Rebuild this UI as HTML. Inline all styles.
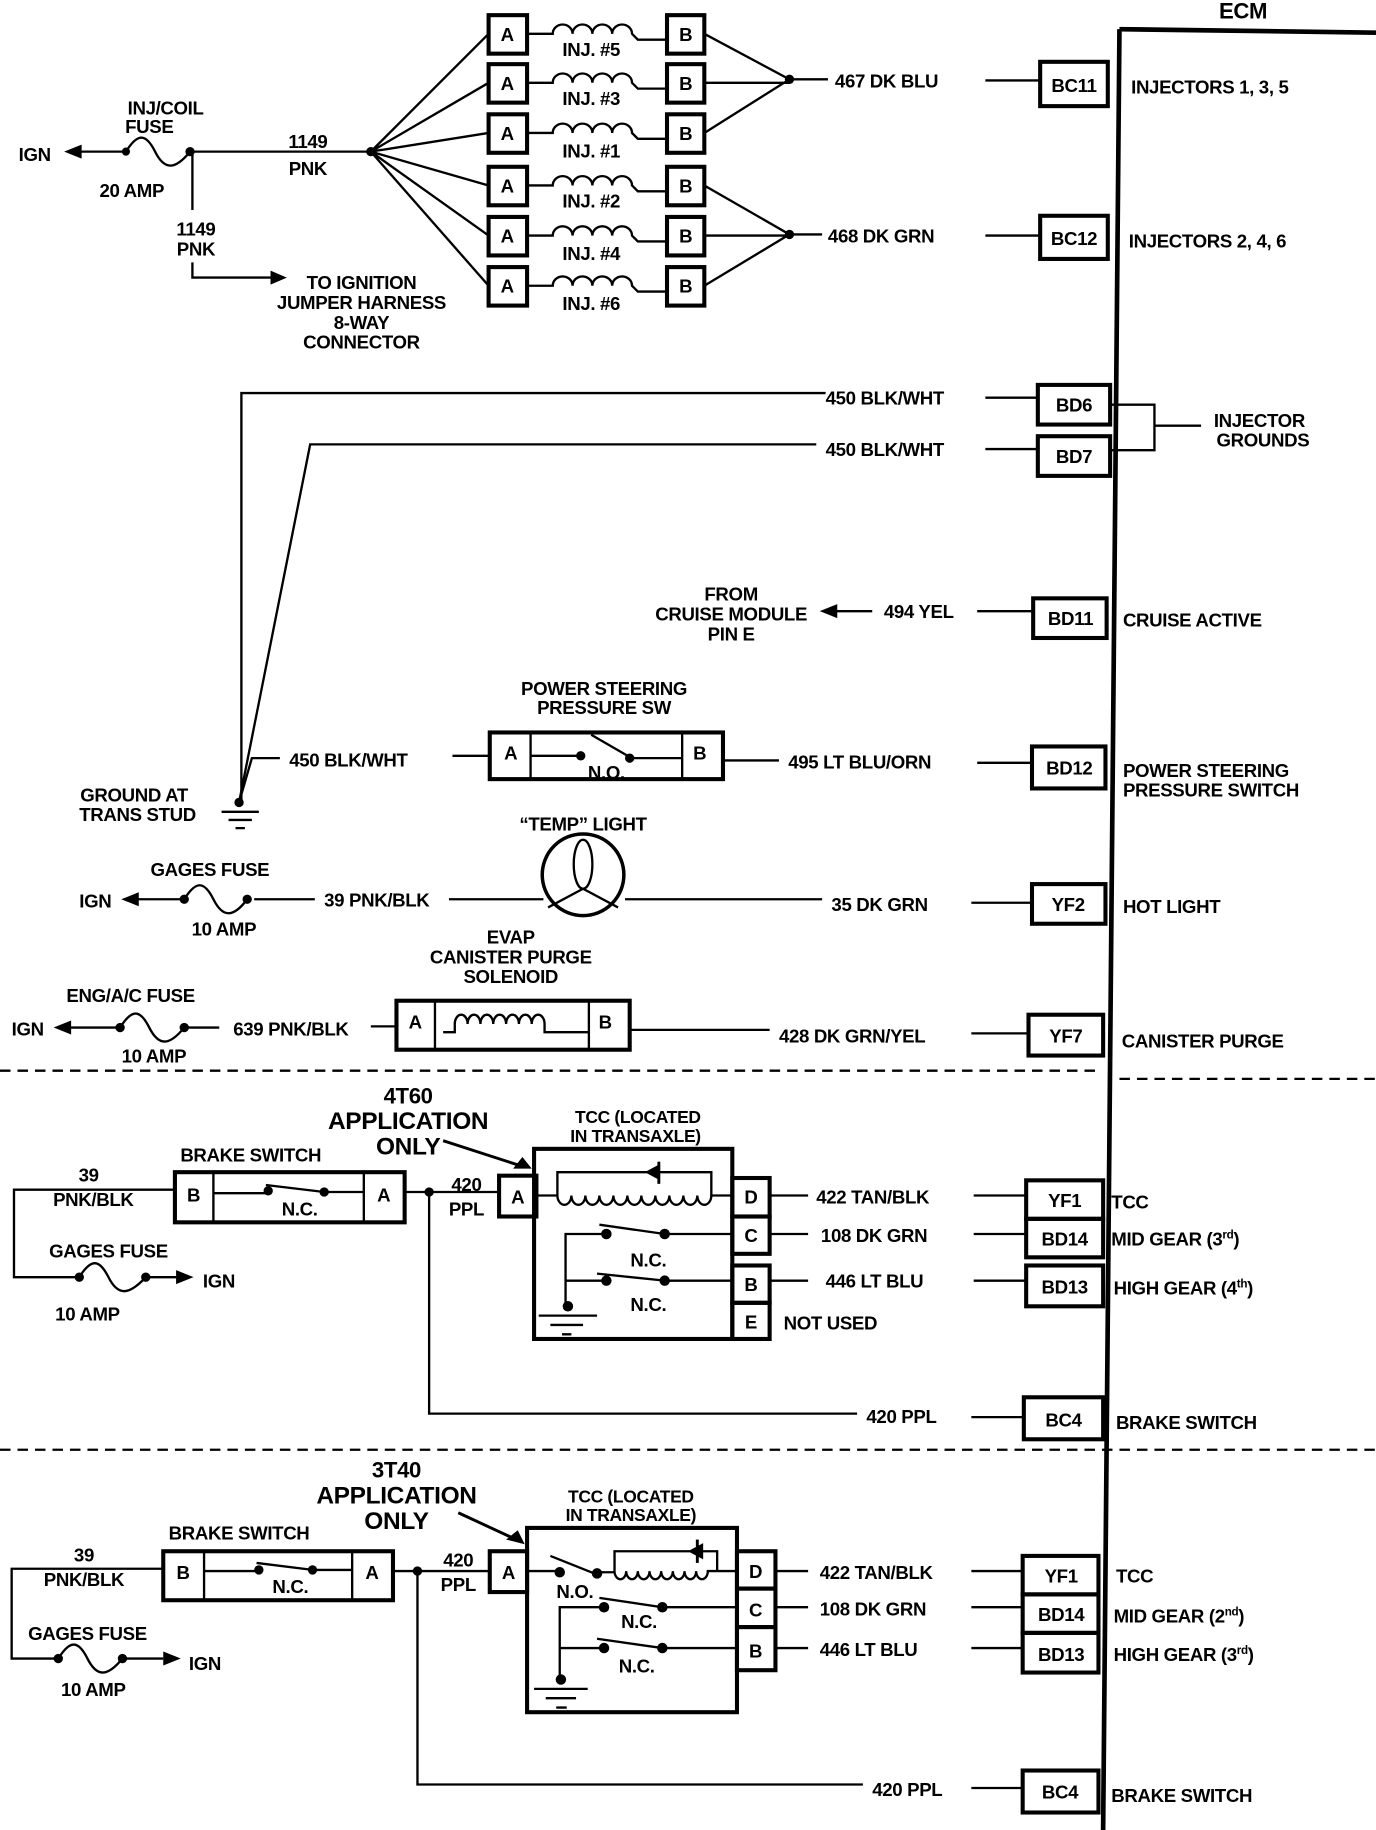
<!DOCTYPE html>
<html><head><meta charset="utf-8"><style>
html,body{margin:0;padding:0;background:#fff;}
svg{display:block;}
text{font-family:"Liberation Sans",sans-serif;font-weight:bold;font-size:16px;fill:#000;letter-spacing:-0.3px;}
.c{text-anchor:middle;}
.big{font-size:21px;}
.sm{font-size:15px;}
</style></head><body>
<svg width="1376" height="1830" viewBox="0 0 1180 1569" preserveAspectRatio="none" xmlns="http://www.w3.org/2000/svg">
<g stroke="#000" fill="none" stroke-width="2">
<!-- ECM -->
<line x1="960" y1="25" x2="946" y2="1569" stroke-width="4"/>
<line x1="960" y1="25" x2="1180" y2="28" stroke-width="4"/>

<!-- injector boxes -->
<g stroke-width="3.5">
<rect x="419" y="13" width="33" height="33"/><rect x="572" y="13" width="32" height="33"/>
<rect x="419" y="55" width="33" height="33"/><rect x="572" y="55" width="32" height="33"/>
<rect x="419" y="98" width="33" height="33"/><rect x="572" y="98" width="32" height="33"/>
<rect x="419" y="143" width="33" height="33"/><rect x="572" y="143" width="32" height="33"/>
<rect x="419" y="186" width="33" height="33"/><rect x="572" y="186" width="32" height="33"/>
<rect x="419" y="229" width="33" height="33"/><rect x="572" y="229" width="32" height="33"/>
</g>
<path d="M452 29 H474 a8.5 8 0 0 1 17 0 a8.5 8 0 0 1 17 0 a8.5 8 0 0 1 17 0 a8.5 8 0 0 1 17 0 l5 5 H572"/>
<path d="M452 71 H474 a8.5 8 0 0 1 17 0 a8.5 8 0 0 1 17 0 a8.5 8 0 0 1 17 0 a8.5 8 0 0 1 17 0 l5 5 H572"/>
<path d="M452 114 H474 a8.5 8 0 0 1 17 0 a8.5 8 0 0 1 17 0 a8.5 8 0 0 1 17 0 a8.5 8 0 0 1 17 0 l5 5 H572"/>
<path d="M452 159 H474 a8.5 8 0 0 1 17 0 a8.5 8 0 0 1 17 0 a8.5 8 0 0 1 17 0 a8.5 8 0 0 1 17 0 l5 5 H572"/>
<path d="M452 202 H474 a8.5 8 0 0 1 17 0 a8.5 8 0 0 1 17 0 a8.5 8 0 0 1 17 0 a8.5 8 0 0 1 17 0 l5 5 H572"/>
<path d="M452 245 H474 a8.5 8 0 0 1 17 0 a8.5 8 0 0 1 17 0 a8.5 8 0 0 1 17 0 a8.5 8 0 0 1 17 0 l5 5 H572"/>
<path d="M318 130 L419 29 M318 130 L419 71 M318 130 L419 114 M318 130 L419 159 M318 130 L419 202 M318 130 L419 245"/>
<path d="M604 29 L677 68 L604 114 M604 71 H677 M677 68 H710"/>
<path d="M604 159 L677 201 L604 245 M604 202 H677 M677 201 H705"/>
<path d="M845 69 H892 M845 202 H892"/>
<g stroke-width="3.5"><rect x="892" y="53" width="58" height="38"/><rect x="892" y="185" width="58" height="37"/></g>
<path d="M60 130 H108"/>
<path d="M108 130 C118 114,125 114,133 130 C141 146,150 146,163 130 H318"/>
<path d="M165 130 V180 M165 225 V238 H232"/>

<path d="M708 337 H207 V688"/>
<path d="M700 381 H266 L205 688"/>
<path d="M205 688 L216 650 H240"/>
<path d="M845 341 H890 M845 385 H890"/>
<g stroke-width="3.5"><rect x="890" y="330" width="62" height="34"/><rect x="890" y="374" width="62" height="34"/></g>
<path d="M952 347 H990 V386 H952 M990 365 H1030"/>
<path d="M190 696 H222 M196 703 H216 M202 710 H210"/>

<path d="M748 524 H712 M838 524 H886"/>
<rect x="886" y="513" width="63" height="34" stroke-width="3.5"/>

<path d="M388 648 H420"/>
<rect x="420" y="628" width="200" height="40" stroke-width="3.5"/>
<path d="M455 628 V668 M585 628 V668"/>
<path d="M455 648 H498 M507 630 L540 649 M540 650 H585"/>
<path d="M620 652 H668 M838 654 H885"/>
<rect x="885" y="640" width="63" height="36" stroke-width="3.5"/>

<path d="M218 771 H270 M385 771 H466 M536 771 H705 M833 774 H885"/>
<path d="M110 771 H158"/>
<path d="M158 771 C168 755,175 755,183 771 C191 787,200 787,212 771"/>
<circle cx="500" cy="750" r="35" stroke-width="3"/>
<ellipse cx="500" cy="741" rx="8" ry="21"/>
<path d="M500 762 L470 778 M500 762 L530 778"/>
<rect x="885" y="758" width="63" height="34" stroke-width="3.5"/>

<path d="M52 881 H103"/>
<path d="M103 881 C113 865,120 865,128 881 C136 897,145 897,158 881 H188"/>
<path d="M318 880 H340"/>
<rect x="340" y="858" width="200" height="42" stroke-width="3.5"/>
<path d="M373 858 V900 M505 858 V900"/>
<path d="M380 885 H390 V878 a5.5 8 0 0 1 11 0 a5.5 8 0 0 1 11 0 a5.5 8 0 0 1 11 0 a5.5 8 0 0 1 11 0 a5.5 8 0 0 1 11 0 a5.5 8 0 0 1 11 0 a5.5 8 0 0 1 11 0 V885 H505"/>
<path d="M540 883 H660 M833 886 H882"/>
<rect x="882" y="870" width="64" height="35" stroke-width="3.5"/>

<path d="M0 918 H940 M960 925 H1180 M0 1243 H1180" stroke-dasharray="9 6"/>

<path d="M380 978 L448 1000" stroke-width="2.5"/>
<rect x="150" y="1005" width="197" height="43" stroke-width="3.5"/>
<path d="M183 1005 V1048 M312 1005 V1048"/>
<path d="M183 1023 H230 M228 1016 L278 1022 M278 1022 H312"/>
<path d="M150 1020 H12 V1095 H68"/>
<path d="M68 1095 C78 1079,85 1079,93 1095 C101 1111,110 1111,125 1095 H158"/>
<path d="M347 1022 H428 M368 1022 V1212 H735 M833 1215 H878"/>
<rect x="878" y="1198" width="68" height="36" stroke-width="3.5"/>
<rect x="458" y="985" width="170" height="163" stroke-width="3.5"/>
<rect x="428" y="1008" width="32" height="35" stroke-width="3.5"/>
<path d="M460 1025 H478 M478 1025 V1005 H610 V1025"/>
<path d="M478 1025 a6 8 0 0 0 12 0 a6 8 0 0 0 12 0 a6 8 0 0 0 12 0 a6 8 0 0 0 12 0 a6 8 0 0 0 12 0 a6 8 0 0 0 12 0 a6 8 0 0 0 12 0 a6 8 0 0 0 12 0 a6 8 0 0 0 12 0 a6 8 0 0 0 12 0 a6 8 0 0 0 12 0 H628"/>
<path d="M565 996 V1015" stroke-width="2.5"/>
<g stroke-width="3.5"><rect x="628" y="1010" width="32" height="33"/><rect x="628" y="1043" width="32" height="32"/><rect x="628" y="1085" width="32" height="32"/><rect x="628" y="1117" width="32" height="31"/></g>
<path d="M660 1025 H693 M660 1058 H693 M660 1098 H693"/>
<path d="M835 1025 H880 M835 1058 H880 M835 1098 H880"/>
<g stroke-width="3.5"><rect x="880" y="1012" width="66" height="33"/><rect x="880" y="1045" width="66" height="33"/><rect x="880" y="1085" width="66" height="35"/></g>
<path d="M485 1120 V1058 H518 M514 1050 L570 1058 M570 1058 H628"/>
<path d="M485 1098 H518 M512 1092 L570 1098 M570 1098 H628"/>
<path d="M462 1128 H512 M472 1136 H500 M482 1144 H490"/>

<path d="M393 1297 L447 1322" stroke-width="2.5"/>
<rect x="140" y="1330" width="197" height="42" stroke-width="3.5"/>
<path d="M175 1330 V1372 M302 1330 V1372"/>
<path d="M175 1347 H222 M220 1340 L268 1346 M268 1346 H302"/>
<path d="M140 1345 H10 V1422 H50"/>
<path d="M50 1422 C60 1406,67 1406,75 1422 C83 1438,92 1438,105 1422 H140"/>
<path d="M337 1347 H420 M358 1347 V1530 H740 M833 1533 H877"/>
<rect x="877" y="1518" width="65" height="36" stroke-width="3.5"/>
<rect x="452" y="1310" width="180" height="158" stroke-width="3.5"/>
<rect x="420" y="1330" width="32" height="35" stroke-width="3.5"/>
<path d="M452 1347 H480 M472 1334 L512 1350 M512 1348 H527 M527 1347 V1330 H615 V1347"/>
<path d="M527 1347 a5 7 0 0 0 10 0 a5 7 0 0 0 10 0 a5 7 0 0 0 10 0 a5 7 0 0 0 10 0 a5 7 0 0 0 10 0 a5 7 0 0 0 10 0 a5 7 0 0 0 10 0 a5 7 0 0 0 10 0 H632"/>
<path d="M598 1320 V1340" stroke-width="2.5"/>
<g stroke-width="3.5"><rect x="632" y="1330" width="33" height="32"/><rect x="632" y="1362" width="33" height="33"/><rect x="632" y="1395" width="33" height="37"/></g>
<path d="M665 1347 H693 M665 1378 H693 M665 1413 H693"/>
<path d="M833 1347 H877 M833 1378 H877 M833 1413 H877"/>
<g stroke-width="3.5"><rect x="877" y="1334" width="65" height="33"/><rect x="877" y="1367" width="65" height="33"/><rect x="877" y="1400" width="65" height="34"/></g>
<path d="M480 1440 V1378 H518 M514 1370 L568 1378 M568 1378 H632"/>
<path d="M480 1413 H518 M512 1405 L568 1413 M568 1413 H632"/>
<path d="M458 1448 H504 M468 1456 H494 M477 1464 H486"/>
</g>

<g fill="#000">
<circle cx="318" cy="130" r="4"/><circle cx="677" cy="68" r="4"/><circle cx="677" cy="201" r="4"/>
<circle cx="108" cy="130" r="3.5"/><circle cx="163" cy="130" r="4"/>
<polygon points="55,130 70,124 70,136"/><polygon points="246,238 232,232 232,244"/>
<circle cx="205" cy="688" r="4"/>
<polygon points="703,524 718,518 718,530"/>
<circle cx="498" cy="648" r="4"/><circle cx="540" cy="650" r="4"/>
<circle cx="158" cy="771" r="4"/><circle cx="212" cy="771" r="4"/><polygon points="104,771 119,765 119,777"/>
<circle cx="103" cy="881" r="4"/><circle cx="158" cy="881" r="4"/><polygon points="46,881 61,875 61,887"/>
<polygon points="456,1002 440,1002 448,992"/>
<circle cx="230" cy="1021" r="4"/><circle cx="278" cy="1022" r="4"/><circle cx="368" cy="1022" r="4"/>
<circle cx="68" cy="1095" r="4"/><circle cx="125" cy="1095" r="4"/><polygon points="166,1095 151,1089 151,1101"/>
<polygon points="553,1005 566,998 566,1012"/>
<circle cx="520" cy="1058" r="4.5"/><circle cx="570" cy="1058" r="4.5"/>
<circle cx="520" cy="1098" r="4.5"/><circle cx="570" cy="1098" r="4.5"/><circle cx="487" cy="1120" r="4.5"/>
<polygon points="450,1324 434,1320 444,1312"/>
<circle cx="222" cy="1346" r="4"/><circle cx="268" cy="1346" r="4"/><circle cx="358" cy="1347" r="4"/>
<circle cx="50" cy="1422" r="4"/><circle cx="105" cy="1422" r="4"/><polygon points="155,1422 140,1416 140,1428"/>
<polygon points="590,1330 603,1323 603,1337"/>
<circle cx="480" cy="1348" r="4.5"/><circle cx="512" cy="1349" r="4.5"/>
<circle cx="518" cy="1378" r="4.5"/><circle cx="568" cy="1378" r="4.5"/>
<circle cx="518" cy="1413" r="4.5"/><circle cx="568" cy="1413" r="4.5"/><circle cx="481" cy="1440" r="4.5"/>
</g>

<text x="1066" y="16" class="c big" style="font-size:19px">ECM</text>
<text x="435" y="35" class="c">A</text><text x="588" y="35" class="c">B</text>
<text x="435" y="77" class="c">A</text><text x="588" y="77" class="c">B</text>
<text x="435" y="120" class="c">A</text><text x="588" y="120" class="c">B</text>
<text x="435" y="165" class="c">A</text><text x="588" y="165" class="c">B</text>
<text x="435" y="208" class="c">A</text><text x="588" y="208" class="c">B</text>
<text x="435" y="251" class="c">A</text><text x="588" y="251" class="c">B</text>
<text x="507" y="48" class="c">INJ. #5</text>
<text x="507" y="90" class="c">INJ. #3</text>
<text x="507" y="135" class="c">INJ. #1</text>
<text x="507" y="178" class="c">INJ. #2</text>
<text x="507" y="223" class="c">INJ. #4</text>
<text x="507" y="266" class="c">INJ. #6</text>
<text x="716" y="75">467 DK BLU</text>
<text x="921" y="79" class="c">BC11</text>
<text x="970" y="80">INJECTORS 1, 3, 5</text>
<text x="710" y="208">468 DK GRN</text>
<text x="921" y="210" class="c">BC12</text>
<text x="968" y="212">INJECTORS 2, 4, 6</text>
<text x="16" y="138">IGN</text>
<text x="142" y="98" class="c">INJ/COIL</text>
<text x="128" y="114" class="c">FUSE</text>
<text x="113" y="169" class="c">20 AMP</text>
<text x="264" y="127" class="c">1149</text>
<text x="264" y="150" class="c">PNK</text>
<text x="168" y="202" class="c">1149</text>
<text x="168" y="219" class="c">PNK</text>
<text x="310" y="248" class="c">TO IGNITION</text>
<text x="310" y="265" class="c">JUMPER HARNESS</text>
<text x="310" y="282" class="c">8-WAY</text>
<text x="310" y="299" class="c">CONNECTOR</text>

<text x="708" y="347">450 BLK/WHT</text>
<text x="921" y="353" class="c">BD6</text>
<text x="708" y="391">450 BLK/WHT</text>
<text x="921" y="397" class="c">BD7</text>
<text x="1080" y="366" class="c">INJECTOR</text>
<text x="1083" y="383" class="c">GROUNDS</text>

<text x="627" y="515" class="c">FROM</text>
<text x="627" y="532" class="c">CRUISE MODULE</text>
<text x="627" y="549" class="c">PIN E</text>
<text x="758" y="530">494 YEL</text>
<text x="918" y="536" class="c">BD11</text>
<text x="963" y="537">CRUISE ACTIVE</text>

<text x="518" y="596" class="c">POWER STEERING</text>
<text x="518" y="612" class="c">PRESSURE SW</text>
<text x="438" y="651" class="c">A</text><text x="600" y="651" class="c">B</text>
<text x="520" y="668" class="c">N.O.</text>
<text x="248" y="657">450 BLK/WHT</text>
<text x="676" y="659">495 LT BLU/ORN</text>
<text x="917" y="664" class="c">BD12</text>
<text x="963" y="666">POWER STEERING</text>
<text x="963" y="683">PRESSURE SWITCH</text>
<text x="115" y="687" class="c">GROUND AT</text>
<text x="118" y="704" class="c">TRANS STUD</text>

<text x="500" y="712" class="c">“TEMP” LIGHT</text>
<text x="180" y="751" class="c">GAGES FUSE</text>
<text x="68" y="778">IGN</text>
<text x="278" y="777">39 PNK/BLK</text>
<text x="192" y="802" class="c">10 AMP</text>
<text x="713" y="781">35 DK GRN</text>
<text x="916" y="781" class="c">YF2</text>
<text x="963" y="783">HOT LIGHT</text>

<text x="438" y="809" class="c">EVAP</text>
<text x="438" y="826" class="c">CANISTER PURGE</text>
<text x="438" y="843" class="c">SOLENOID</text>
<text x="112" y="859" class="c">ENG/A/C FUSE</text>
<text x="10" y="888">IGN</text>
<text x="200" y="888">639 PNK/BLK</text>
<text x="132" y="911" class="c">10 AMP</text>
<text x="356" y="882" class="c">A</text><text x="519" y="882" class="c">B</text>
<text x="668" y="894">428 DK GRN/YEL</text>
<text x="914" y="894" class="c">YF7</text>
<text x="962" y="898">CANISTER PURGE</text>

<text x="350" y="946" class="c big" style="font-size:19px">4T60</text>
<text x="350" y="968" class="c big">APPLICATION</text>
<text x="350" y="990" class="c big">ONLY</text>
<text x="547" y="963" class="c sm">TCC (LOCATED</text>
<text x="545" y="979" class="c sm">IN TRANSAXLE)</text>
<text x="215" y="996" class="c">BRAKE SWITCH</text>
<text x="166" y="1030" class="c">B</text><text x="329" y="1030" class="c">A</text>
<text x="257" y="1042" class="c">N.C.</text>
<text x="76" y="1013" class="c">39</text>
<text x="80" y="1034" class="c">PNK/BLK</text>
<text x="93" y="1078" class="c">GAGES FUSE</text>
<text x="174" y="1104">IGN</text>
<text x="75" y="1132" class="c">10 AMP</text>
<text x="400" y="1021" class="c">420</text>
<text x="400" y="1042" class="c">PPL</text>
<text x="444" y="1032" class="c">A</text>
<text x="644" y="1032" class="c">D</text><text x="644" y="1065" class="c">C</text><text x="644" y="1107" class="c">B</text><text x="644" y="1139" class="c">E</text>
<text x="556" y="1086" class="c">N.C.</text>
<text x="556" y="1124" class="c">N.C.</text>
<text x="700" y="1032">422 TAN/BLK</text>
<text x="704" y="1065">108 DK GRN</text>
<text x="708" y="1104">446 LT BLU</text>
<text x="672" y="1140">NOT USED</text>
<text x="913" y="1035" class="c">YF1</text>
<text x="913" y="1068" class="c">BD14</text>
<text x="913" y="1109" class="c">BD13</text>
<text x="953" y="1036">TCC</text>
<text x="953" y="1068">MID GEAR (3<tspan font-size="10" dy="-6">rd</tspan><tspan dy="6">)</tspan></text>
<text x="955" y="1110">HIGH GEAR (4<tspan font-size="10" dy="-6">th</tspan><tspan dy="6">)</tspan></text>
<text x="743" y="1220">420 PPL</text>
<text x="912" y="1223" class="c">BC4</text>
<text x="957" y="1225">BRAKE SWITCH</text>

<text x="340" y="1267" class="c big" style="font-size:19px">3T40</text>
<text x="340" y="1289" class="c big">APPLICATION</text>
<text x="340" y="1311" class="c big">ONLY</text>
<text x="541" y="1288" class="c sm">TCC (LOCATED</text>
<text x="541" y="1304" class="c sm">IN TRANSAXLE)</text>
<text x="205" y="1320" class="c">BRAKE SWITCH</text>
<text x="157" y="1354" class="c">B</text><text x="319" y="1354" class="c">A</text>
<text x="249" y="1366" class="c">N.C.</text>
<text x="72" y="1339" class="c">39</text>
<text x="72" y="1360" class="c">PNK/BLK</text>
<text x="75" y="1406" class="c">GAGES FUSE</text>
<text x="162" y="1432">IGN</text>
<text x="80" y="1454" class="c">10 AMP</text>
<text x="393" y="1343" class="c">420</text>
<text x="393" y="1364" class="c">PPL</text>
<text x="436" y="1354" class="c">A</text>
<text x="493" y="1370" class="c">N.O.</text>
<text x="648" y="1353" class="c">D</text><text x="648" y="1386" class="c">C</text><text x="648" y="1421" class="c">B</text>
<text x="548" y="1396" class="c">N.C.</text>
<text x="546" y="1434" class="c">N.C.</text>
<text x="703" y="1354">422 TAN/BLK</text>
<text x="703" y="1385">108 DK GRN</text>
<text x="703" y="1420">446 LT BLU</text>
<text x="910" y="1357" class="c">YF1</text>
<text x="910" y="1390" class="c">BD14</text>
<text x="910" y="1424" class="c">BD13</text>
<text x="957" y="1357">TCC</text>
<text x="955" y="1391">MID GEAR (2<tspan font-size="10" dy="-6">nd</tspan><tspan dy="6">)</tspan></text>
<text x="955" y="1424">HIGH GEAR (3<tspan font-size="10" dy="-6">rd</tspan><tspan dy="6">)</tspan></text>
<text x="748" y="1540">420 PPL</text>
<text x="909" y="1542" class="c">BC4</text>
<text x="953" y="1545">BRAKE SWITCH</text>
</svg>
</body></html>
